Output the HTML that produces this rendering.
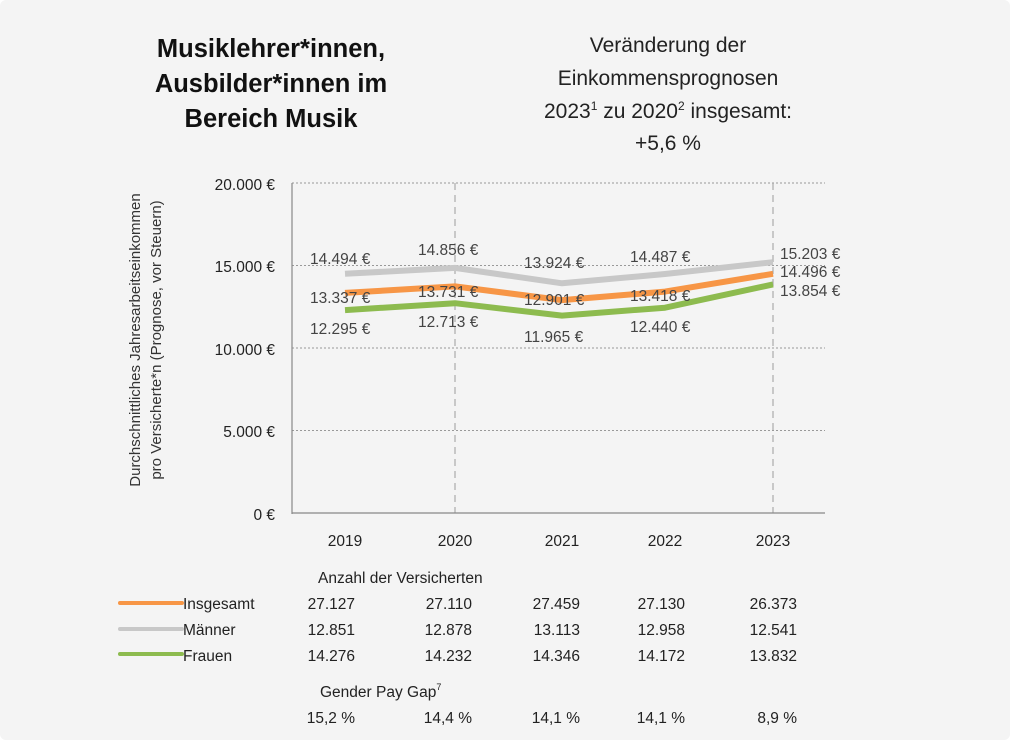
<!DOCTYPE html>
<html><head><meta charset="utf-8"><style>
body{margin:0;background:#fff;}
svg{display:block;font-family:"Liberation Sans",sans-serif;}
</style></head><body>
<svg width="1023" height="740" viewBox="0 0 1023 740">
<rect x="0" y="0" width="1010" height="740" rx="6" fill="#f4f4f4"/>
<g font-size="25.5" font-weight="bold" fill="#111" text-anchor="middle">
<text x="271" y="57">Musiklehrer*innen,</text>
<text x="271" y="92">Ausbilder*innen im</text>
<text x="271" y="127">Bereich Musik</text>
</g>
<g font-size="21" fill="#222" text-anchor="middle">
<text x="668" y="52">Veränderung der</text>
<text x="668" y="85">Einkommensprognosen</text>
<text x="668" y="118">2023<tspan font-size="12" dy="-8">1</tspan><tspan dy="8"> zu 2020</tspan><tspan font-size="12" dy="-8">2</tspan><tspan dy="8"> insgesamt:</tspan></text>
<text x="668" y="150">+5,6 %</text>
</g>
<g transform="translate(140,340) rotate(-90)" font-size="15" fill="#333" text-anchor="middle">
<text x="0" y="0">Durchschnittliches Jahresarbeitseinkommen</text>
<text x="0" y="21">pro Versicherte*n (Prognose, vor Steuern)</text>
</g>
<g stroke="#999" stroke-width="1" stroke-dasharray="2,2">
<line x1="292" y1="183" x2="825" y2="183"/>
<line x1="292" y1="265.5" x2="825" y2="265.5"/>
<line x1="292" y1="348" x2="825" y2="348"/>
<line x1="292" y1="430.5" x2="825" y2="430.5"/>
</g>
<g stroke="#aaa" stroke-width="1.2" stroke-dasharray="7,5">
<line x1="455" y1="183" x2="455" y2="513"/>
<line x1="773" y1="183" x2="773" y2="513"/>
</g>
<line x1="292" y1="183" x2="292" y2="514" stroke="#888" stroke-width="1.2"/>
<line x1="292" y1="513" x2="825" y2="513" stroke="#888" stroke-width="1.2"/>
<g font-size="15.5" fill="#222" text-anchor="end">
<text x="275" y="190">20.000 €</text>
<text x="275" y="272">15.000 €</text>
<text x="275" y="355">10.000 €</text>
<text x="275" y="437">5.000 €</text>
<text x="275" y="520">0 €</text>
</g>
<g font-size="15.5" fill="#222" text-anchor="middle">
<text x="345" y="546">2019</text><text x="455" y="546">2020</text><text x="562" y="546">2021</text><text x="665" y="546">2022</text><text x="773" y="546">2023</text>
</g>
<g fill="none" stroke-width="6" stroke-linejoin="round">
<polyline stroke="#c8c8c8" points="345,273.8 455,267.9 562,283.3 665,274 773,262.2"/>
<polyline stroke="#f79646" points="345,292.9 455,286.4 562,300.1 665,291.6 773,273.8"/>
<polyline stroke="#8dbb4f" points="345,310.1 455,303.2 562,315.6 665,307.7 773,284.4"/>
</g>
<g font-size="15.5" fill="#444">
<text x="310" y="264">14.494 €</text><text x="418" y="255">14.856 €</text><text x="524" y="268">13.924 €</text><text x="630" y="262">14.487 €</text>
<text x="310" y="303">13.337 €</text><text x="418" y="297">13.731 €</text><text x="524" y="305">12.901 €</text><text x="630" y="301">13.418 €</text>
<text x="310" y="334">12.295 €</text><text x="418" y="327">12.713 €</text><text x="524" y="342">11.965 €</text><text x="630" y="332">12.440 €</text>
<text x="780" y="259">15.203 €</text><text x="780" y="277">14.496 €</text><text x="780" y="296">13.854 €</text>
</g>
<g font-size="15.5" fill="#222">
<text x="318" y="583">Anzahl der Versicherten</text>
<line x1="120" y1="603" x2="182" y2="603" stroke="#f79646" stroke-width="4" stroke-linecap="round"/>
<line x1="120" y1="629" x2="182" y2="629" stroke="#c8c8c8" stroke-width="4" stroke-linecap="round"/>
<line x1="120" y1="654" x2="182" y2="654" stroke="#8dbb4f" stroke-width="4" stroke-linecap="round"/>
<text x="183" y="609">Insgesamt</text><text x="183" y="635">Männer</text><text x="183" y="661">Frauen</text>
<g text-anchor="end">
<text x="355" y="609">27.127</text><text x="472" y="609">27.110</text><text x="580" y="609">27.459</text><text x="685" y="609">27.130</text><text x="797" y="609">26.373</text>
<text x="355" y="635">12.851</text><text x="472" y="635">12.878</text><text x="580" y="635">13.113</text><text x="685" y="635">12.958</text><text x="797" y="635">12.541</text>
<text x="355" y="661">14.276</text><text x="472" y="661">14.232</text><text x="580" y="661">14.346</text><text x="685" y="661">14.172</text><text x="797" y="661">13.832</text>
</g>
<text x="320" y="697">Gender Pay Gap<tspan font-size="9" dy="-7">7</tspan></text>
<g text-anchor="end">
<text x="355" y="723">15,2 %</text><text x="472" y="723">14,4 %</text><text x="580" y="723">14,1 %</text><text x="685" y="723">14,1 %</text><text x="797" y="723">8,9 %</text>
</g>
</g>
</svg>
</body></html>
